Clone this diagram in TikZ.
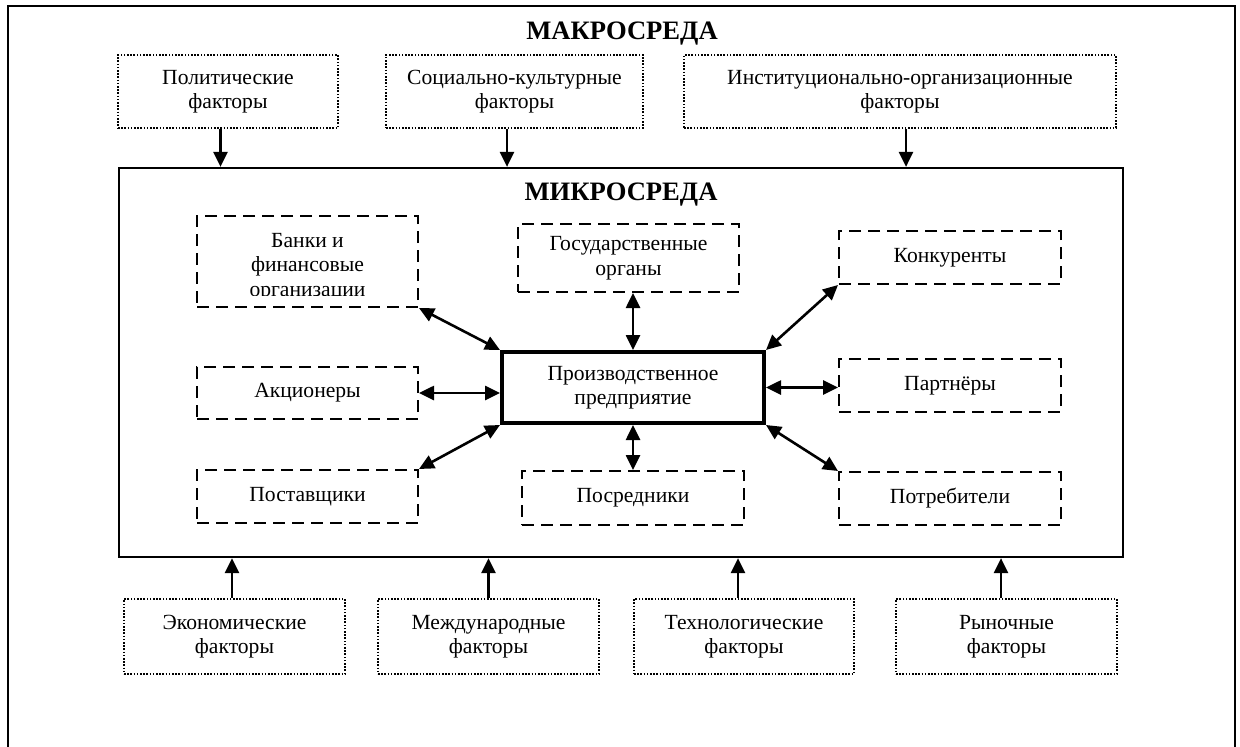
\documentclass[tikz,border=0pt]{standalone}
\usepackage{fontspec}
\setmainfont{Liberation Serif}
\usetikzlibrary{arrows.meta}

\newcommand{\txtsize}{\fontsize{21.6pt}{24.5pt}\selectfont}
\newcommand{\ttlsize}{\fontsize{26.6pt}{30pt}\selectfont\bfseries}

\tikzset{
  sz/.style 2 args={minimum width=#1, minimum height=#2},
  basebox/.style={inner sep=0pt, align=center, font=\txtsize},
  dotbox/.style={basebox, draw, line width=1.8pt, dash pattern=on 1.6pt off 1.6pt},
  dashbox/.style={basebox, draw, line width=2pt, dash pattern=on 12pt off 7pt},
  corebox/.style={basebox, draw, line width=4pt},
  framebox/.style={draw, line width=2.2pt, inner sep=0pt},
  title/.style={font=\ttlsize, inner sep=0pt},
  arr/.style={line width=2.6pt, -{Triangle[length=15pt,width=14pt]}},
  darr/.style={line width=2.6pt, {Triangle[length=15pt,width=14pt]}-{Triangle[length=15pt,width=14pt]}}
}

\begin{document}
\begin{tikzpicture}[x=1pt, y=-1pt]
  \useasboundingbox (0,0) rectangle (1240,747);
  \clip (0,0) rectangle (1240,747);

  % outer frame (open at the bottom edge)
  \draw[line width=2.4pt] (8,800) |- (1235,6) -- (1235,800);

  \node[title] (macro) at (622,34) {МАКРОСРЕДА};

  % macro-level factors, top row
  \node[dotbox, sz={220pt}{73pt}] (pol)   at (228,91.5)   {Политические\\факторы};
  \node[dotbox, sz={257pt}{73pt}] (soc)   at (514.5,91.5) {Социально-культурные\\факторы};
  \node[dotbox, sz={432pt}{73pt}] (inst)  at (900,91.5)   {Институционально-организационные\\факторы};

  % micro environment frame
  \node[framebox, sz={1004pt}{389pt}] (micro) at (621,362.5) {};
  \node[title] (microT) at (621,195) {МИКРОСРЕДА};

  % arrows from the top factors
  \draw[arr] ([xshift=-7.5pt]pol.south) -- ([xshift=-7.5pt]pol.south |- micro.north);
  \draw[arr] ([xshift=-7.5pt]soc.south) -- ([xshift=-7.5pt]soc.south |- micro.north);
  \draw[arr] ([xshift=6pt]inst.south)   -- ([xshift=6pt]inst.south |- micro.north);

  % central enterprise
  \node[corebox, sz={262pt}{71pt}] (core) at (633,387.5) {Производственное\\предприятие};

  % participants of the micro environment
  \node[dashbox, sz={221pt}{91pt}] (bank) at (307.5,261.5) {};
  \begin{scope}
    \clip (197,216) rectangle (418,295);
    \node[basebox] (bankT) at (307.5,267) {Банки и\\финансовые\\организации};
  \end{scope}
  \node[dashbox, sz={221pt}{68pt}] (gov)  at (628.5,258)  {Государственные\\органы};
  \node[dashbox, sz={222pt}{53pt}] (konk) at (950,257.5)  {Конкуренты};
  \node[dashbox, sz={221pt}{52pt}] (akc)  at (307.5,393)  {Акционеры};
  \node[dashbox, sz={222pt}{53pt}] (part) at (950,385.5)  {Партнёры};
  \node[dashbox, sz={221pt}{53pt}] (post) at (307.5,496.5){Поставщики};
  \node[dashbox, sz={222pt}{54pt}] (posr) at (633,498)    {Посредники};
  \node[dashbox, sz={222pt}{53pt}] (potr) at (950,498.5)  {Потребители};

  % two-way links with the enterprise
  \draw[darr] (bank.south east) -- (core.north west);
  \draw[darr] (akc.east) -- (akc.east -| core.west);
  \draw[darr] (post.north east) -- (core.south west);
  \draw[darr] (core.north) -- (core.north |- gov.south);
  \draw[darr] (core.south) -- (core.south |- posr.north);
  \draw[darr] (core.north east) -- (konk.south west);
  \draw[darr] (core.east) -- (core.east -| part.west);
  \draw[darr] (core.south east) -- (potr.north west);

  % macro-level factors, bottom row
  \node[dotbox, sz={221pt}{75pt}] (econ) at (234.5,636.5) {Экономические\\факторы};
  \node[dotbox, sz={221pt}{75pt}] (intl) at (488.5,636.5) {Международные\\факторы};
  \node[dotbox, sz={220pt}{75pt}] (tech) at (744,636.5)   {Технологические\\факторы};
  \node[dotbox, sz={221pt}{75pt}] (mark) at (1006.5,636.5){Рыночные\\факторы};

  \draw[arr] ([xshift=-2.5pt]econ.north) -- ([xshift=-2.5pt]econ.north |- micro.south);
  \draw[arr] (intl.north) -- (intl.north |- micro.south);
  \draw[arr] ([xshift=-6pt]tech.north) -- ([xshift=-6pt]tech.north |- micro.south);
  \draw[arr] ([xshift=-5.5pt]mark.north) -- ([xshift=-5.5pt]mark.north |- micro.south);
\end{tikzpicture}
\end{document}
